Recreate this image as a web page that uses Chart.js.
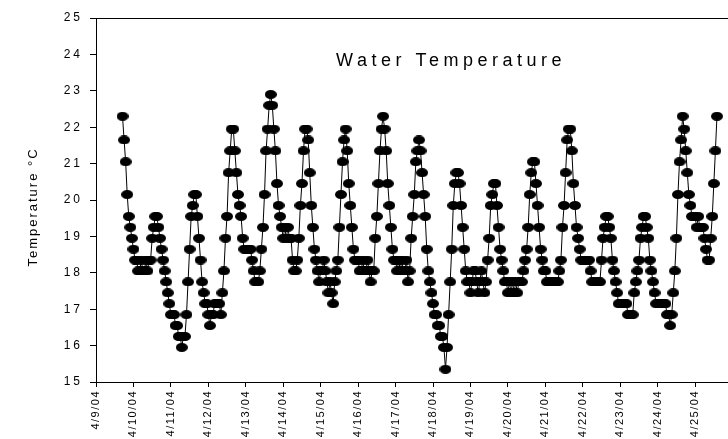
<!DOCTYPE html>
<html>
<head>
<meta charset="utf-8">
<script src="https://cdn.jsdelivr.net/npm/chart.js@4/dist/chart.umd.min.js"></script>
<style>
  html, body { margin: 0; padding: 0; background: #fff; overflow: hidden; width: 728px; height: 439px; }
  #wrap { position: relative; width: 800px; height: 439px; }
</style>
</head>
<body>
<div id="wrap"><canvas id="chart" width="800" height="439"></canvas></div>
<script>
// Date tick labels, one per day starting 4/9/04 (x = 0)
const dateLabels = ['4/9/04','4/10/04','4/11/04','4/12/04','4/13/04','4/14/04','4/15/04',
  '4/16/04','4/17/04','4/18/04','4/19/04','4/20/04','4/21/04','4/22/04','4/23/04',
  '4/24/04','4/25/04','4/26/04','4/27/04'];

// Temperature axis ticks (°C)
const tempTicks = [15, 16, 17, 18, 19, 20, 21, 22, 23, 24, 25];

// Hourly logger readings (°C); first reading at 17:00 on 4/9/04
const firstHour = 17;
const apr09 = [22.3, 21.65, 21.05, 20.15, 19.55, 19.25, 18.95];
const apr10 = [18.65,18.35,18.35,18.05,18.05,18.35,18.05,18.05,18.35,18.05,18.35,18.35,
               18.95,19.25,19.55,19.55,19.25,18.95,18.65,18.35,18.05,17.75,17.45,17.15];
const apr11 = [16.85,16.85,16.85,16.55,16.55,16.25,16.25,15.95,16.25,16.25,16.85,17.75,
               18.65,19.55,19.85,20.15,20.15,19.55,18.95,18.35,17.75,17.45,17.15,17.15];
const apr12 = [16.85,16.55,16.85,16.85,17.15,17.15,17.15,17.15,16.85,17.45,18.05,18.95,
               19.55,20.75,21.35,21.95,21.95,21.35,20.75,20.15,19.85,19.55,18.95,18.65];
const apr13 = [18.65,18.65,18.65,18.65,18.35,18.05,17.75,17.75,17.75,18.05,18.65,19.25,
               20.15,21.35,21.95,22.6,22.9,22.6,21.95,21.35,20.45,19.85,19.55,19.25];
const apr14 = [18.95,19.25,18.95,19.25,18.95,18.95,18.35,18.05,18.05,18.35,18.95,19.85,
               20.45,21.35,21.95,21.95,21.65,20.75,19.85,19.25,18.65,18.35,18.05,17.75];
const apr15 = [18.05,18.05,18.35,18.05,17.75,17.45,17.75,17.45,17.15,17.75,18.05,18.35,
               19.25,20.15,21.05,21.65,21.95,21.35,20.45,19.85,19.25,18.65,18.35,18.35];
const apr16 = [18.35,18.05,18.05,18.35,18.05,18.05,18.35,18.05,17.75,18.05,18.05,18.95,
               19.55,20.45,21.35,21.95,22.3,21.95,21.35,20.45,19.85,19.25,18.65,18.35];
const apr17 = [18.35,18.05,18.35,18.05,18.35,18.05,18.05,18.35,17.75,18.05,18.95,19.55,
               20.15,21.05,21.35,21.65,21.35,20.75,20.15,19.55,18.65,18.05,17.75,17.45];
const apr18 = [17.15,16.85,16.85,16.55,16.55,16.25,16.25,15.95,15.35,15.95,16.85,17.75,
               18.65,19.85,20.45,20.75,20.75,20.45,19.85,19.25,18.65,18.05,17.75,17.75];
const apr19 = [17.45,17.75,18.05,18.05,17.75,17.45,17.75,18.05,17.75,17.45,17.75,18.35,
               18.95,19.85,20.15,20.45,20.45,19.85,19.25,18.65,18.35,18.05,17.75,17.75];
const apr20 = [17.45,17.75,17.45,17.75,17.45,17.75,17.45,17.75,17.75,17.75,18.05,18.35,
               18.65,19.25,20.15,20.75,21.05,21.05,20.45,19.85,19.25,18.65,18.35,18.05];
const apr21 = [18.05,17.75,17.75,17.75,17.75,17.75,17.75,17.75,17.75,18.05,18.35,19.25,
               19.85,20.75,21.65,21.95,21.95,21.35,20.45,19.85,19.25,18.95,18.65,18.35];
const apr22 = [18.35,18.35,18.35,18.35,18.35,18.05,17.75,17.75,17.75,17.75,17.75,17.75,
               18.35,18.95,19.25,19.55,19.55,19.25,18.95,18.35,18.05,17.75,17.45,17.15];
const apr23 = [17.15,17.15,17.15,17.15,17.15,16.85,16.85,16.85,16.85,17.45,17.75,18.05,
               18.35,18.95,19.25,19.55,19.55,19.25,18.95,18.35,18.05,17.75,17.45,17.15];
const apr24 = [17.15,17.15,17.15,17.15,17.15,17.15,16.85,16.85,16.55,16.85,17.45,18.05,
               18.95,20.15,21.05,21.65,22.3,21.95,21.35,20.75,20.15,19.85,19.55,19.55];
const apr25 = [19.55,19.25,19.55,19.25,19.25,19.25,18.95,18.65,18.35,18.35,18.95,19.55,
               20.45,21.35,22.3];

const readings = [].concat(apr09, apr10, apr11, apr12, apr13, apr14, apr15, apr16, apr17,
                           apr18, apr19, apr20, apr21, apr22, apr23, apr24, apr25);
// x in days since 4/9/04 00:00
const points = readings.map((t, i) => ({ x: (firstHour + i) / 24, y: t }));

// Filled black ellipse used as the point marker
function ellipseMarker(w, h) {
  const c = document.createElement('canvas');
  c.width = w; c.height = h;
  const g = c.getContext('2d');
  g.fillStyle = '#000';
  g.beginPath();
  g.ellipse(w / 2, h / 2, w / 2, h / 2, 0, 0, Math.PI * 2);
  g.fill();
  return c;
}
const marker = ellipseMarker(12, 9);

const FONT = '"Liberation Sans", Arial, Helvetica, sans-serif';

// Draw a scale's tick labels with extra character spacing
function spaceLabels(scale, spacing) {
  if (scale._spacedLabels) return;
  const drawLabels = scale.drawLabels.bind(scale);
  scale.drawLabels = (area) => {
    const c = scale.ctx;
    const prev = c.letterSpacing;
    c.letterSpacing = spacing;
    drawLabels(area);
    c.letterSpacing = prev;
  };
  scale._spacedLabels = true;
}

// Plot frame, chart title inside the plot, and vertical axis title
const decorations = {
  id: 'decorations',
  afterDraw(chart) {
    const { ctx, chartArea: a } = chart;
    ctx.save();
    ctx.letterSpacing = '0px';
    ctx.strokeStyle = '#000';
    ctx.lineWidth = 1;
    ctx.strokeRect(Math.round(a.left) + 0.5, Math.round(a.top) + 0.5,
                   Math.round(a.right - a.left), Math.round(a.bottom - a.top));

    ctx.fillStyle = '#000';
    ctx.letterSpacing = '4.5px';
    ctx.font = '18px ' + FONT;
    ctx.textAlign = 'center';
    ctx.textBaseline = 'middle';
    ctx.fillText('Water Temperature', 451, 61);

    ctx.letterSpacing = '2px';
    ctx.font = '13px ' + FONT;
    ctx.translate(33, 208);
    ctx.rotate(-Math.PI / 2);
    ctx.fillText('Temperature °C', 1, 0);
    ctx.restore();
  }
};

new Chart(document.getElementById('chart'), {
  type: 'line',
  data: {
    datasets: [{
      data: points,
      borderColor: '#000',
      borderWidth: 1,
      tension: 0,
      pointStyle: marker,
      pointRadius: 5,
      pointHoverRadius: 5,
      fill: false
    }]
  },
  options: {
    responsive: false,
    animation: false,
    devicePixelRatio: 1,
    events: [],
    layout: { padding: { top: 18, right: 30, left: 0, bottom: 0 } },
    plugins: { legend: { display: false }, tooltip: { enabled: false }, title: { display: false } },
    scales: {
      x: {
        type: 'linear',
        min: 0,
        max: dateLabels.length - 1,
        border: { display: true, color: '#000', width: 1 },
        grid: { drawOnChartArea: false, drawTicks: true, tickLength: 5, color: '#000' },
        ticks: {
          stepSize: 1,
          autoSkip: false,
          minRotation: 90,
          maxRotation: 90,
          padding: 3,
          color: '#000',
          font: { family: FONT, size: 11 },
          callback: (v) => dateLabels[v]
        },
        afterFit(scale) { scale.height = 57; spaceLabels(scale, '1.5px'); }
      },
      y: {
        min: tempTicks[0],
        max: tempTicks[tempTicks.length - 1],
        border: { display: true, color: '#000', width: 1 },
        grid: { drawOnChartArea: false, drawTicks: true, tickLength: 6, color: '#000' },
        afterBuildTicks(scale) { scale.ticks = tempTicks.map(v => ({ value: v })); },
        ticks: {
          padding: 7,
          color: '#000',
          font: { family: FONT, size: 12 },
          callback: (v) => String(v)
        },
        afterFit(scale) { scale.width = 96; spaceLabels(scale, '3px'); }
      }
    }
  },
  plugins: [decorations]
});
</script>
</body>
</html>
